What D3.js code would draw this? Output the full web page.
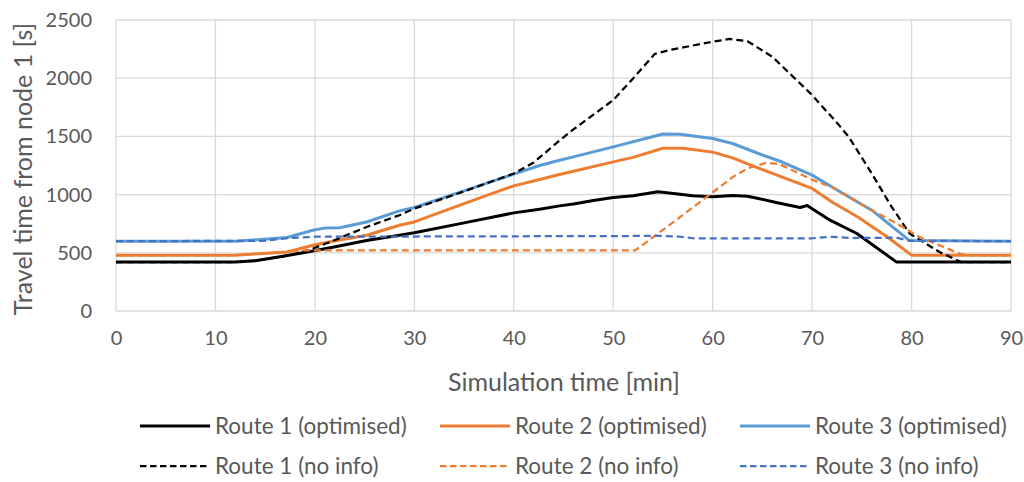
<!DOCTYPE html>
<html>
<head>
<meta charset="utf-8">
<script src="https://cdn.jsdelivr.net/npm/d3@7"></script>
<style>
  html, body { margin: 0; padding: 0; background: #fff; }
  svg text { font-family: Lato, "Open Sans", sans-serif; fill: #595959; }
</style>
</head>
<body>
<svg id="chart" width="1024" height="482"></svg>
<script>
// Travel time from node 1 per route, [simulation minute, seconds]
const route1Optimised = [[0,420],[12,420],[14,432],[16.8,470],[19.8,515],[21.8,548],[25.2,605],[28.5,650],[30,672],[35,757],[40,843],[42.6,875],[44.6,903],[46,920],[48,950],[50,975],[52,990],[54.5,1025],[56.5,1005],[58,990],[60,982],[62,992],[63.5,985],[64.6,967],[66.5,930],[68.8,889],[69.5,906],[71.8,780],[74.5,666],[78.5,420],[90,420]];
const route2Optimised = [[0,480],[12,480],[13.5,488],[17.2,507],[19.8,565],[21.8,600],[25.2,651],[28.5,737],[30,765],[35,923],[37.5,1000],[40,1075],[42.6,1130],[44.6,1172],[46,1200],[50,1281],[52,1320],[55,1398],[57,1398],[60,1365],[62,1315],[64.6,1228],[67,1150],[70,1053],[72,937],[74.6,808],[77.5,640],[80,480],[90,480]];
const route3Optimised = [[0,600],[12,600],[13.5,608],[17.2,631],[19.8,694],[21.1,714],[22.5,716],[25.2,765],[28.5,860],[30,889],[35,1032],[40,1176],[42.6,1250],[44.6,1295],[46,1324],[50,1410],[55,1520],[56.7,1518],[60,1482],[62,1439],[64.6,1353],[67,1280],[70,1167],[72,1066],[76,866],[79.8,605],[90,600]];
const route1NoInfo = [[0,420],[12,420],[14,432],[16.8,470],[18.2,494],[19.8,537],[21.8,602],[25.2,722],[28.5,823],[30,880],[35,1028],[40,1181],[42,1275],[43.3,1370],[44.6,1465],[46,1560],[50,1812],[52,1998],[54.2,2210],[56,2248],[60,2313],[61.7,2337],[63.5,2318],[66,2184],[70,1855],[72.7,1597],[73.7,1494],[76,1181],[78,894],[79.8,666],[82.8,507],[85,420],[90,420]];
const route2NoInfo = [[0,480],[12,480],[13.5,488],[17.2,507],[18.5,520],[52.2,520],[56,760],[59.4,980],[62,1150],[63.5,1225],[65.4,1273],[66.7,1262],[70.1,1124],[72.1,1061],[75.4,894],[78.5,752],[80.8,636],[84.8,494],[85.5,480],[90,480]];
const route3NoInfo = [[0,600],[15,603],[17.2,625],[18.5,631],[20,638],[55,645],[56.5,640],[58,625],[60,623],[70,625],[72,637],[74,627],[78.5,630],[79.8,603],[90,600]];

const xTicks = [0,10,20,30,40,50,60,70,80,90];
const yTicks = [0,500,1000,1500,2000,2500];
const seriesNames = ["Route 1 (optimised)","Route 2 (optimised)","Route 3 (optimised)","Route 1 (no info)","Route 2 (no info)","Route 3 (no info)"];

const series = [
  { name: seriesNames[0], data: route1Optimised, color: "#000000", width: 3, dash: null },
  { name: seriesNames[1], data: route2Optimised, color: "#ED7D31", width: 3, dash: null },
  { name: seriesNames[2], data: route3Optimised, color: "#5B9BD5", width: 3, dash: null },
  { name: seriesNames[3], data: route1NoInfo, color: "#000000", width: 2.25, dash: "7,4" },
  { name: seriesNames[4], data: route2NoInfo, color: "#ED7D31", width: 2.25, dash: "7,4" },
  { name: seriesNames[5], data: route3NoInfo, color: "#4472C4", width: 2.25, dash: "7,4" }
];

const svg = d3.select("#chart");
const plot = { left: 116, right: 1011, top: 20, bottom: 311 };

const x = d3.scaleLinear().domain([0, 90]).range([plot.left, plot.right]);
const y = d3.scaleLinear().domain([0, 2500]).range([plot.bottom, plot.top]);

// gridlines
const grid = svg.append("g").attr("stroke", "#D9D9D9").attr("stroke-width", 1.3);
grid.selectAll("line.v").data(xTicks).join("line")
  .attr("x1", d => x(d)).attr("x2", d => x(d))
  .attr("y1", plot.top).attr("y2", plot.bottom);
grid.selectAll("line.h").data(yTicks).join("line")
  .attr("x1", plot.left).attr("x2", plot.right)
  .attr("y1", d => y(d)).attr("y2", d => y(d));

// font sizes
const tickSize = 20, titleSize = 25, legendSize = 22.5;

// axes (labels only, lines come from the grid)
const xAxis = svg.append("g").attr("transform", `translate(0,${plot.bottom})`)
  .call(d3.axisBottom(x).tickValues(xTicks).tickFormat(d3.format("d")).tickSize(0).tickPadding(20));
const yAxis = svg.append("g").attr("transform", `translate(${plot.left},0)`)
  .call(d3.axisLeft(y).tickValues(yTicks).tickFormat(d3.format("d")).tickSize(0).tickPadding(24));
[xAxis, yAxis].forEach(a => {
  a.select(".domain").remove();
  a.selectAll("text").attr("font-size", tickSize).attr("font-family", "Lato, sans-serif").attr("fill", "#595959");
});

// axis titles
svg.append("text").attr("x", 564).attr("y", 382).attr("dy", "0.35em")
  .attr("text-anchor", "middle").attr("font-size", titleSize).text("Simulation time [min]");
svg.append("text").attr("transform", `translate(23,169) rotate(-90)`).attr("dy", "0.35em")
  .attr("text-anchor", "middle").attr("font-size", titleSize).text("Travel time from node 1 [s]");

// series lines
const line = d3.line().x(d => x(d[0])).y(d => y(d[1]));
svg.append("g").selectAll("path").data(series).join("path")
  .attr("d", d => line(d.data))
  .attr("fill", "none")
  .attr("stroke", d => d.color)
  .attr("stroke-width", d => d.width)
  .attr("stroke-dasharray", d => d.dash)
  .attr("stroke-linejoin", "round");

// legend: two rows of three
const legendCols = [140, 440, 740];
const legendRows = [426, 466];
const legend = svg.append("g").selectAll("g").data(series).join("g")
  .attr("transform", (d, i) => `translate(${legendCols[i % 3]},${legendRows[Math.floor(i / 3)]})`);
legend.append("line").attr("x1", 0).attr("x2", 70).attr("y1", 0).attr("y2", 0)
  .attr("stroke", d => d.color).attr("stroke-width", d => d.width)
  .attr("stroke-dasharray", d => d.dash ? "6.5,3.5" : null);
legend.append("text").attr("x", 75).attr("y", 0).attr("dy", "0.35em")
  .attr("font-size", legendSize).text(d => d.name);
</script>
</body>
</html>
